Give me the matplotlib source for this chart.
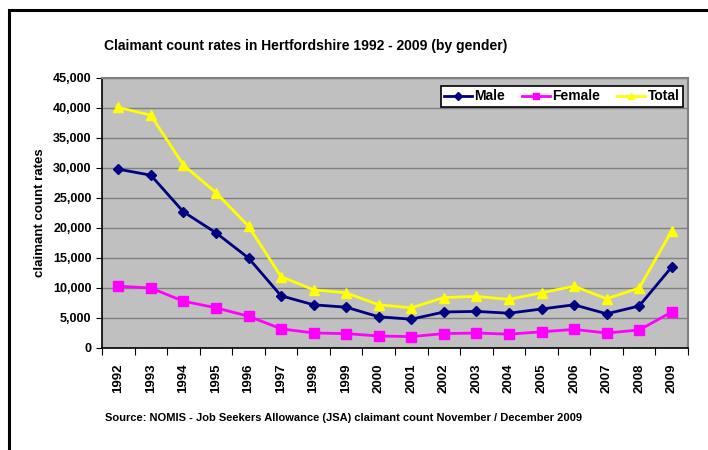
import matplotlib.pyplot as plt
import numpy as np
from matplotlib.patches import Rectangle
from matplotlib.lines import Line2D

plt.rcParams['font.family'] = ['Liberation Sans', 'DejaVu Sans']
plt.rcParams['font.weight'] = 'bold'

years = [str(y) for y in range(1992, 2010)]
male = [29800, 28800, 22700, 19200, 15000, 8700, 7200, 6800, 5200, 4800,
        6000, 6100, 5800, 6500, 7200, 5700, 7000, 13500]
female = [10300, 10000, 7800, 6700, 5300, 3200, 2500, 2400, 2000, 1900,
          2400, 2500, 2300, 2700, 3100, 2500, 3000, 6000]
total = [40100, 38800, 30500, 25900, 20300, 11900, 9700, 9200, 7200, 6700,
         8400, 8600, 8100, 9200, 10300, 8200, 10000, 19500]

fig = plt.figure(figsize=(7.08, 4.5), dpi=100)
fig.patch.set_facecolor('white')

# outer chart border (runs off the right and bottom edges)
fig.patches.append(Rectangle((9 / 708, -0.1), 1.1, 1 - 10 / 450 + 0.1,
                             transform=fig.transFigure, fill=False,
                             edgecolor='black', linewidth=2.2))

ax = fig.add_axes([102 / 708, 102 / 450, 586 / 708, 270 / 450])
ax.set_facecolor('#C0C0C0')

x = np.arange(len(years))
ax.plot(x, male, color='#000080', marker='D', markersize=5, linewidth=2)
ax.plot(x, female, color='#FF00FF', marker='s', markersize=7, linewidth=2)
ax.plot(x, total, color='#FFFF00', marker='^', markersize=7, linewidth=2)

ax.set_xlim(-0.5, len(years) - 0.5)
ax.set_ylim(0, 45000)
ax.set_yticks(np.arange(0, 45001, 5000))
ax.set_yticklabels([f'{v:,}' for v in range(0, 45001, 5000)], fontsize=9, fontweight='bold')
ax.yaxis.grid(True, color='#808080', linewidth=1)
ax.set_axisbelow(True)

# category-boundary ticks, labels in the middle
ax.set_xticks(np.arange(-0.5, len(years), 1))
ax.set_xticklabels([])
ax.set_xticks(x, minor=True)
ax.set_xticklabels(years, minor=True, rotation=90, fontsize=9.5, fontweight='bold')
ax.tick_params(axis='x', which='minor', length=0, pad=11)
ax.tick_params(axis='x', which='major', length=5, direction='out', color='black')
ax.tick_params(axis='y', length=4, direction='out', color='black')

for s in ['top', 'right']:
    ax.spines[s].set_color('#808080')
    ax.spines[s].set_linewidth(1.5)
for s in ['left', 'bottom']:
    ax.spines[s].set_color('black')
    ax.spines[s].set_linewidth(1.2)

ax.set_ylabel('claimant count rates', fontsize=9.5, fontweight='bold', labelpad=5)

handles = [
    Line2D([], [], color='#000080', marker='D', markersize=4, linewidth=2),
    Line2D([], [], color='#FF00FF', marker='s', markersize=5, linewidth=2),
    Line2D([], [], color='#FFFF00', marker='^', markersize=5, linewidth=2),
]
leg = ax.legend(handles, ['Male', 'Female', 'Total'], loc='upper right', ncol=3,
                prop={'size': 10, 'weight': 'bold'}, frameon=True, fancybox=False,
                edgecolor='black', framealpha=1, borderpad=0.25, handlelength=2.0,
                columnspacing=1.2, handletextpad=0.2, borderaxespad=0,
                bbox_to_anchor=(581 / 586, 1 - 8 / 270))
leg.get_frame().set_linewidth(1.2)

fig.text(104 / 708, 1 - 46 / 450, 'Claimant count rates in Hertfordshire 1992 - 2009 (by gender)',
         fontsize=10, fontweight='bold', ha='left', va='center')
fig.text(105 / 708, 1 - 418 / 450,
         'Source: NOMIS - Job Seekers Allowance (JSA) claimant count November / December 2009',
         fontsize=8, fontweight='bold', ha='left', va='center')

fig.savefig('out.png', dpi=100)
